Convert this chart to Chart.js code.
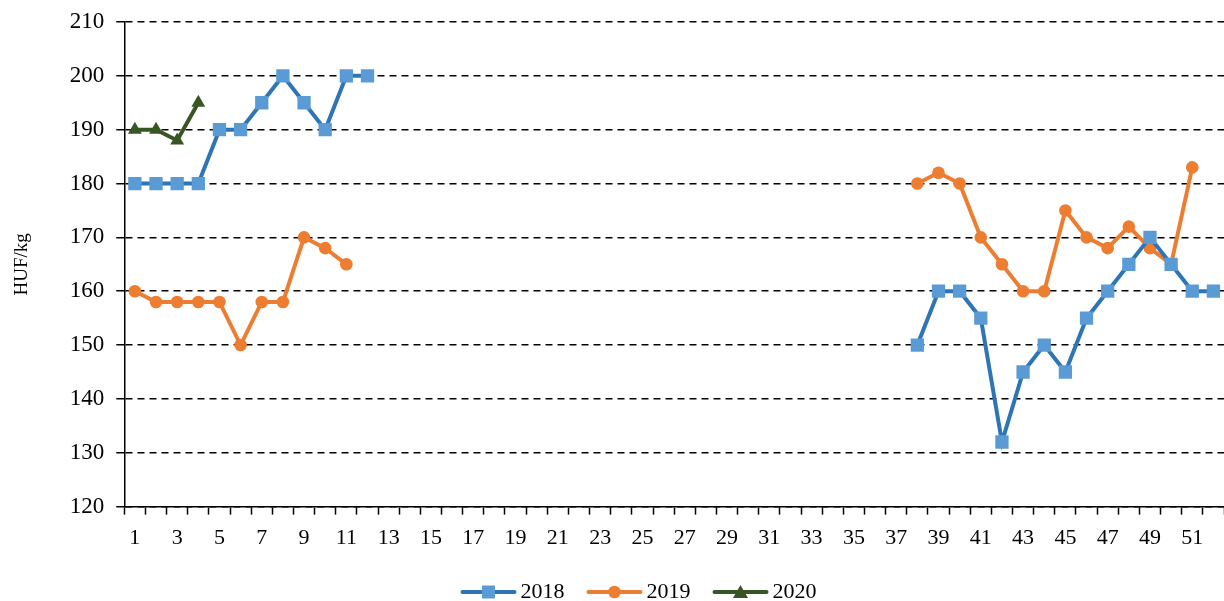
<!DOCTYPE html>
<html>
<head>
<meta charset="utf-8">
<script src="https://cdn.jsdelivr.net/npm/chart.js@4/dist/chart.umd.min.js"></script>
<style>
  html, body { margin: 0; padding: 0; background: #fff; }
  #wrap { width: 1224px; height: 601px; }
</style>
</head>
<body>
<div id="wrap"><canvas id="chart"></canvas></div>
<script>
var weeks = []
for (var w = 1; w <= 52; w++) weeks.push(String(w))

var N = null
var data2018 = [180, 180, 180, 180, 190, 190, 195, 200, 195, 190, 200, 200,
    N, N, N, N, N, N, N, N, N, N, N, N, N, N, N, N, N, N, N, N, N, N, N, N, N,
    150, 160, 160, 155, 132, 145, 150, 145, 155, 160, 165, 170, 165, 160, 160]
var data2019 = [160, 158, 158, 158, 158, 150, 158, 158, 170, 168, 165,
    N, N, N, N, N, N, N, N, N, N, N, N, N, N, N, N, N, N, N, N, N, N, N, N, N, N,
    180, 182, 180, 170, 165, 160, 160, 175, 170, 168, 172, 168, 165, 183, N]
var data2020 = [190, 190, 188, 195]

var serif = "'Liberation Serif', 'Times New Roman', serif"

// legend icon: line with the marker in the middle, drawn a bit right of the box centre
function legendIcon(line, fill, shape) {
    var c = document.createElement('canvas')
    c.width = 66
    c.height = 16
    var g = c.getContext('2d')
    g.strokeStyle = line
    g.lineWidth = 4
    g.lineCap = 'round'
    g.beginPath()
    g.moveTo(11.5, 8)
    g.lineTo(63.5, 8)
    g.stroke()
    g.fillStyle = fill
    g.beginPath()
    if (shape == 'rect') g.rect(31, 1.5, 13, 13)
    else if (shape == 'circle') g.arc(37.5, 8, 6.3, 0, Math.PI * 2)
    else { g.moveTo(37.5, 1); g.lineTo(45, 14); g.lineTo(30, 14); g.closePath() }
    g.fill()
    return c
}

var icons = [
    legendIcon('#2E75B6', '#5B9BD5', 'rect'),
    legendIcon('#ED7D31', '#ED7D31', 'circle'),
    legendIcon('#375623', '#375623', 'triangle')
]

var legendShift = {
    id: 'legendShift',
    afterLayout: function (chart) {
        chart.legend.left += 22
        chart.legend.right += 22
    }
}

var ctx = document.getElementById('chart')

var chartGraph = new Chart(ctx, {
    type: 'line',
    data: {
        labels: weeks,
        datasets: [{
            label: '2018',
            data: data2018,
            borderColor: '#2E75B6',
            borderWidth: 4,
            pointStyle: 'rect',
            pointRadius: 9.4,
            pointBackgroundColor: '#5B9BD5',
            pointBorderWidth: 0
        }, {
            label: '2019',
            data: data2019,
            borderColor: '#ED7D31',
            borderWidth: 4,
            pointStyle: 'circle',
            pointRadius: 6.3,
            pointBackgroundColor: '#ED7D31',
            pointBorderWidth: 0
        }, {
            label: '2020',
            data: data2020,
            borderColor: '#375623',
            borderWidth: 4,
            pointStyle: 'triangle',
            pointRadius: 8,
            pointBackgroundColor: '#375623',
            pointBorderWidth: 0
        }]
    },
    plugins: [legendShift],
    options: {
        responsive: true,
        maintainAspectRatio: false,
        animation: false,
        layout: { autoPadding: false, padding: { top: 22, right: 0, left: 7, bottom: -12 } },
        scales: {
            x: {
                offset: true,
                afterFit: function (s) { s.paddingRight = 0 },
                grid: {
                    offset: true,
                    drawOnChartArea: false,
                    color: '#000',
                    tickLength: 8,
                    tickWidth: 1.5
                },
                border: { color: '#000', width: 1.5 },
                ticks: {
                    autoSkip: false,
                    maxRotation: 0,
                    color: '#000',
                    font: { family: serif, size: 22 },
                    padding: 10,
                    callback: function (v, i) { return i % 2 == 0 ? weeks[i] : '' }
                }
            },
            y: {
                min: 120,
                max: 210,
                afterFit: function (s) { s.paddingTop = 0 },
                ticks: {
                    stepSize: 10,
                    color: '#000',
                    font: { family: serif, size: 23 },
                    padding: 12
                },
                grid: {
                    color: '#000',
                    lineWidth: 1.5,
                    tickLength: 8,
                    tickBorderDash: []
                },
                border: { color: '#000', width: 1.5, dash: [7, 5] },
                title: {
                    display: true,
                    text: 'HUF/kg',
                    color: '#000',
                    font: { family: serif, size: 19 },
                    padding: { top: 4, bottom: 24 }
                }
            }
        },
        plugins: {
            legend: {
                position: 'bottom',
                labels: {
                    usePointStyle: true,
                    pointStyleWidth: 51,
                    padding: 20,
                    color: '#000',
                    font: { family: serif, size: 22 },
                    generateLabels: function (chart) {
                        var items = Chart.defaults.plugins.legend.labels.generateLabels(chart)
                        items.forEach(function (it, i) { it.pointStyle = icons[i] })
                        return items
                    }
                }
            },
            tooltip: { enabled: false }
        }
    }
})
</script>
</body>
</html>
